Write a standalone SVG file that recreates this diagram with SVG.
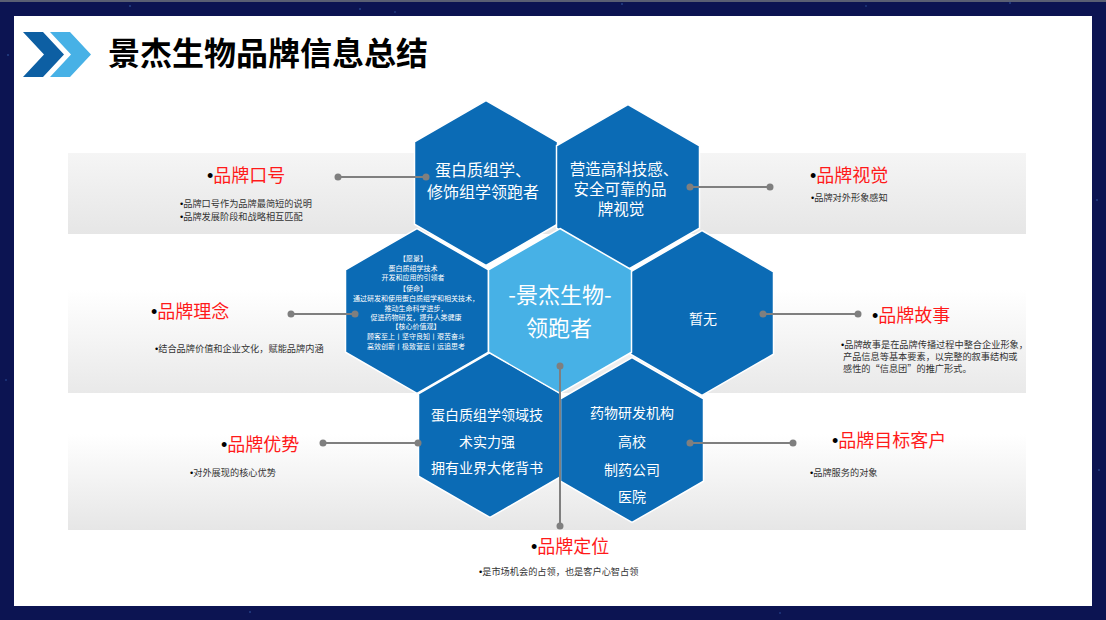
<svg xmlns="http://www.w3.org/2000/svg" width="1106" height="620" viewBox="0 0 1106 620">
<defs>
<linearGradient id="bandA" x1="0" y1="0" x2="0" y2="1"><stop offset="0" stop-color="#f5f5f5"/><stop offset="1" stop-color="#e6e6e6"/></linearGradient>
<linearGradient id="bandB" x1="0" y1="0" x2="0" y2="1"><stop offset="0" stop-color="#ffffff"/><stop offset="0.35" stop-color="#ffffff"/><stop offset="1" stop-color="#e9e9e9"/></linearGradient>
<linearGradient id="bandC" x1="0" y1="0" x2="0" y2="1"><stop offset="0" stop-color="#ffffff"/><stop offset="0.3" stop-color="#ffffff"/><stop offset="1" stop-color="#e6e6e6"/></linearGradient>
<polygon id="hex" points="0,-82.5 71.5,-41.25 71.5,41.25 0,82.5 -71.5,41.25 -71.5,-41.25"/>
<style>
.hd{fill:#0b6bb5;stroke:#ffffff;stroke-width:1.5}
.hl{fill:#47b1e6;stroke:#ffffff;stroke-width:1.5}
.t{font-family:"Noto Sans CJK SC","Noto Sans",sans-serif}
.w{fill:#ffffff;text-anchor:middle}
.lab{font-size:18px;fill:#ff1a1a}
.bul{fill:#000000;font-family:"Liberation Sans",sans-serif}
.sub{font-size:9.2px;fill:#333333}
.con line{stroke:#7f7f7f;stroke-width:2}
.con circle{fill:#7f7f7f}
</style>
</defs>
<rect x="0" y="0" width="1106" height="620" fill="#0c1452"/>
<rect x="0" y="0" width="1106" height="2" fill="#5a5f73"/>
<g fill="#4a7fd0" opacity="0.7">
<circle cx="130" cy="6" r="0.8"/><circle cx="360" cy="9" r="0.8"/><circle cx="395" cy="12" r="0.7"/><circle cx="622" cy="4" r="0.8"/><circle cx="866" cy="6" r="0.7"/><circle cx="1010" cy="3" r="0.8"/><circle cx="1097" cy="200" r="0.8"/><circle cx="8" cy="55" r="0.8"/><circle cx="6" cy="380" r="0.7"/><circle cx="250" cy="612" r="0.8"/><circle cx="780" cy="613" r="0.7"/><circle cx="1099" cy="470" r="0.8"/>
</g>
<rect x="14" y="16" width="1078" height="590" fill="#ffffff"/>
<g id="bands">
<rect x="68" y="153" width="958" height="81" fill="url(#bandA)"/>
<rect x="68" y="234" width="958" height="159" fill="url(#bandB)"/>
<rect x="68" y="393" width="958" height="137" fill="url(#bandC)"/>
</g>
<g id="title">
<polygon points="23,32 43,32 64,54.5 43,77 23,77 44,54.5" fill="#0d5fa3"/>
<polygon points="50,32 70,32 91,54.5 70,77 50,77 71,54.5" fill="#47b1e6"/>
<text class="t" x="108" y="65" font-size="32" font-weight="bold" fill="#000000">景杰生物品牌信息总结</text>
</g>
<g id="hex-tl"><use href="#hex" x="486" y="183" class="hd"/>
<text class="t w" font-size="16"><tspan x="483" y="176">蛋白质组学、</tspan><tspan x="483" y="198">修饰组学领跑者</tspan></text></g>
<g id="hex-tr"><use href="#hex" x="628" y="187" class="hd"/>
<text class="t w" font-size="15.5"><tspan x="624" y="175">营造高科技感、</tspan><tspan x="620" y="195">安全可靠的品</tspan><tspan x="621" y="215">牌视觉</tspan></text></g>
<g id="hex-l"><use href="#hex" x="417" y="311" class="hd"/>
<text class="t w" font-size="7"><tspan x="413" y="260.5">【愿景】</tspan><tspan x="413" y="270.5">蛋白质组学技术</tspan><tspan x="413" y="280">开发和应用的引领者</tspan><tspan x="413" y="290.5">【使命】</tspan><tspan x="416" y="300.5">通过研发和使用蛋白质组学和相关技术，</tspan><tspan x="416" y="310.5">推动生命科学进步，</tspan><tspan x="416" y="319.5">促进药物研发，提升人类健康</tspan><tspan x="416" y="328.5">【核心价值观】</tspan><tspan x="416" y="338.5">顾客至上丨坚守良知丨艰苦奋斗</tspan><tspan x="416" y="348.5">高效创新丨极致营运丨远追思考</tspan></text></g>
<g id="hex-r"><use href="#hex" x="702" y="313" class="hd"/>
<text class="t w" font-size="14" x="703" y="324">暂无</text></g>
<g id="hex-bl"><use href="#hex" x="490" y="435" class="hd"/>
<text class="t w" font-size="14"><tspan x="487" y="420">蛋白质组学领域技</tspan><tspan x="487" y="447">术实力强</tspan><tspan x="487" y="473">拥有业界大佬背书</tspan></text></g>
<g id="hex-br"><use href="#hex" x="632" y="440" class="hd"/>
<text class="t w" font-size="14"><tspan x="632" y="418">药物研发机构</tspan><tspan x="632" y="447">高校</tspan><tspan x="632" y="475">制药公司</tspan><tspan x="632" y="502">医院</tspan></text></g>
<g id="hex-c"><use href="#hex" x="560" y="311" class="hl"/>
<text class="t w" font-size="22"><tspan x="560" y="303">-景杰生物-</tspan><tspan x="559" y="336">领跑者</tspan></text></g>
<g id="connectors" class="con">
<line x1="338" y1="177" x2="426" y2="177"/><circle cx="338" cy="177" r="3.5"/><circle cx="426" cy="177" r="3.5"/>
<line x1="690" y1="187" x2="770" y2="187"/><circle cx="690" cy="187" r="3.5"/><circle cx="770" cy="187" r="3.5"/>
<line x1="291" y1="314" x2="355" y2="314"/><circle cx="291" cy="314" r="3.5"/><circle cx="355" cy="314" r="3.5"/>
<line x1="763" y1="314" x2="858" y2="314"/><circle cx="763" cy="314" r="3.5"/><circle cx="858" cy="314" r="3.5"/>
<line x1="323" y1="443" x2="418" y2="443"/><circle cx="323" cy="443" r="3.5"/><circle cx="418" cy="443" r="3.5"/>
<line x1="690" y1="443" x2="793" y2="443"/><circle cx="690" cy="443" r="3.5"/><circle cx="793" cy="443" r="3.5"/>
<line x1="560" y1="366" x2="560" y2="526"/><circle cx="560" cy="366" r="3.5"/><circle cx="560" cy="526" r="3.5"/>
</g>
<g id="label-kouhao">
<text class="t lab" x="207" y="182"><tspan class="bul">•</tspan>品牌口号</text>
<text class="t sub" font-size="8.8"><tspan x="180" y="207"><tspan class="bul">•</tspan>品牌口号作为品牌最简短的说明</tspan><tspan x="180" y="219.8"><tspan class="bul">•</tspan>品牌发展阶段和战略相互匹配</tspan></text>
</g>
<g id="label-shijue">
<text class="t lab" x="810" y="182"><tspan class="bul">•</tspan>品牌视觉</text>
<text class="t sub" x="811" y="201" font-size="8.3"><tspan class="bul">•</tspan>品牌对外形象感知</text>
</g>
<g id="label-linian">
<text class="t lab" x="151" y="318"><tspan class="bul">•</tspan>品牌理念</text>
<text class="t sub" x="155" y="352"><tspan class="bul">•</tspan>结合品牌价值和企业文化，赋能品牌内涵</text>
</g>
<g id="label-gushi">
<text class="t lab" x="872" y="322"><tspan class="bul">•</tspan>品牌故事</text>
<text class="t sub" font-size="8" x="841" y="347.5"><tspan class="bul">•</tspan>品牌故事是在品牌传播过程中整合企业形象，</text>
<text class="t sub" font-size="8" x="843" y="359.5">产品信息等基本要素，以完整的叙事结构或</text>
<text class="t sub" font-size="8" x="843" y="371.5">感性的“信息团”的推广形式。</text>
</g>
<g id="label-youshi">
<text class="t lab" x="221" y="451"><tspan class="bul">•</tspan>品牌优势</text>
<text class="t sub" x="190" y="476" font-size="8.6"><tspan class="bul">•</tspan>对外展现的核心优势</text>
</g>
<g id="label-kehu">
<text class="t lab" x="832" y="447"><tspan class="bul">•</tspan>品牌目标客户</text>
<text class="t sub" x="810" y="476" font-size="8.4"><tspan class="bul">•</tspan>品牌服务的对象</text>
</g>
<g id="label-dingwei">
<text class="t lab" x="531" y="553" font-size="17"><tspan class="bul">•</tspan>品牌定位</text>
<text class="t sub" x="479" y="575" font-size="9.3"><tspan class="bul">•</tspan>是市场机会的占领，也是客户心智占领</text>
</g>
</svg>
